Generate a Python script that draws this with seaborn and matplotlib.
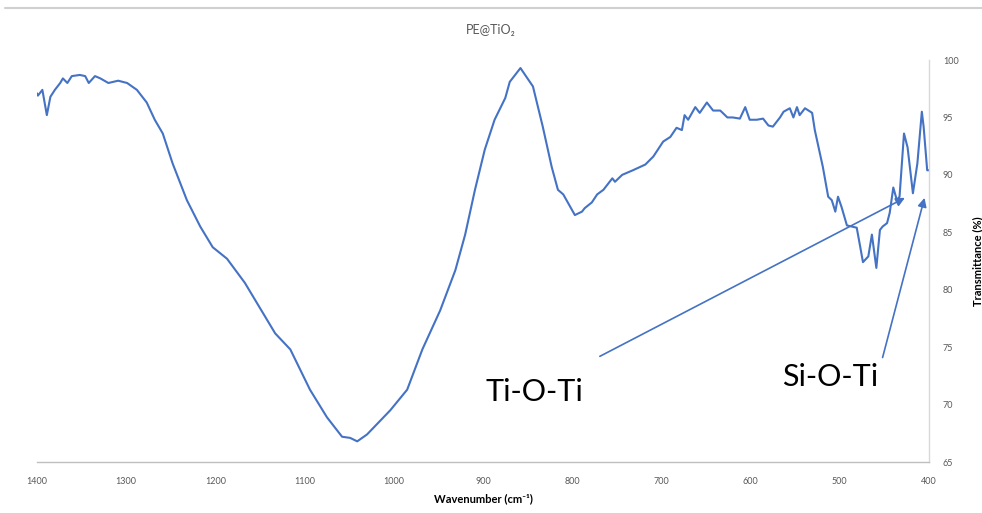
import numpy as np
import pandas as pd
import matplotlib
matplotlib.use("Agg")
import matplotlib.pyplot as plt
from matplotlib.lines import Line2D
import seaborn as sns

# ---- data ----
wavenumber = [1400, 1399, 1394, 1389, 1385, 1380, 1374, 1371, 1366, 1361, 1352, 1346, 1342,
              1335, 1329, 1320, 1309, 1299, 1288, 1277, 1268, 1259, 1248, 1232, 1217, 1203,
              1187, 1167, 1150, 1133, 1116, 1094, 1075, 1058, 1049, 1041, 1030, 1004, 985,
              968, 948, 931, 920, 909, 898, 887, 875, 870, 858, 844, 833, 823, 816, 810,
              797, 789, 786, 778, 772, 765, 755, 752, 744, 732, 718, 709, 698, 690, 683,
              677, 674, 670, 662, 657, 649, 642, 634, 626, 620, 612, 606, 601, 593, 586,
              580, 575, 567, 563, 556, 552, 548, 545, 539, 533, 531, 528, 519, 513, 509,
              505, 502, 498, 492, 481, 477, 474, 468, 464, 459, 455, 452, 447, 444, 440,
              436, 433, 428, 424, 418, 413, 408, 406, 402, 400]
transmittance = [97.1, 96.9, 97.4, 95.2, 96.8, 97.4, 98.0, 98.4, 98.0, 98.6, 98.7, 98.6, 98.0,
                 98.6, 98.4, 98.0, 98.2, 98.0, 97.4, 96.3, 94.8, 93.6, 91.0, 87.8, 85.5, 83.7,
                 82.7, 80.6, 78.4, 76.2, 74.8, 71.3, 68.9, 67.2, 67.1, 66.8, 67.4, 69.5, 71.3,
                 74.8, 78.2, 81.7, 84.8, 88.7, 92.2, 94.8, 96.7, 98.1, 99.3, 97.7, 94.2, 90.7,
                 88.7, 88.3, 86.5, 86.8, 87.1, 87.6, 88.3, 88.7, 89.7, 89.4, 90.0, 90.4, 90.9,
                 91.6, 92.9, 93.3, 94.1, 93.9, 95.2, 94.8, 95.9, 95.4, 96.3, 95.6, 95.6, 95.0,
                 95.0, 94.9, 95.9, 94.8, 94.8, 94.9, 94.3, 94.2, 95.0, 95.5, 95.8, 95.0, 95.9,
                 95.2, 95.8, 95.5, 95.4, 93.9, 90.7, 88.1, 87.8, 86.8, 88.1, 87.2, 85.6, 85.4,
                 83.7, 82.4, 82.9, 84.8, 81.9, 85.2, 85.5, 85.8, 86.7, 88.9, 87.8, 88.1, 93.6,
                 92.4, 88.4, 91.0, 95.5, 94.2, 90.4, 90.4]
x_ticks = [1400, 1300, 1200, 1100, 1000, 900, 800, 700, 600, 500, 400]
y_ticks = [65, 70, 75, 80, 85, 90, 95, 100]
title = "PE@TiO\u2082"
x_label = "Wavenumber (cm\u207b\u00b9)"
y_label = "Transmittance (%)"
annotations = ["Ti-O-Ti", "Si-O-Ti"]

df = pd.DataFrame({"wn": wavenumber, "T": transmittance})

sns.set_theme(style="white")
plt.rcParams["font.family"] = ["Lato", "DejaVu Sans"]

LINE = "#4472C4"
GREY = "#595959"

fig = plt.figure(figsize=(9.82, 5.13), dpi=100)
ax = fig.add_axes([0.0377, 0.0994, 0.9083, 0.7836])

sns.lineplot(data=df, x="wn", y="T", ax=ax, sort=False, estimator=None,
             color=LINE, linewidth=1.5)

ax.set_xlim(1400, 400)
ax.set_ylim(65, 100)
ax.set_xticks(x_ticks)
ax.set_xticklabels([str(t) for t in x_ticks])
ax.set_yticks(y_ticks)
ax.set_yticklabels([str(t) for t in y_ticks])
ax.yaxis.tick_right()
ax.yaxis.set_label_position("right")
ax.tick_params(axis="both", length=0, labelsize=6.5, labelcolor=GREY)
ax.tick_params(axis="x", pad=11)
ax.tick_params(axis="y", pad=10)

for s in ["top", "left"]:
    ax.spines[s].set_visible(False)
ax.spines["bottom"].set_color("#BFBFBF")
ax.spines["right"].set_color("#D9D9D9")
ax.spines["bottom"].set_linewidth(1.0)
ax.spines["right"].set_linewidth(1.0)

ax.set_xlabel(x_label, fontsize=8, fontweight="bold", color="black", labelpad=5)
ax.set_ylabel(y_label, fontsize=8, fontweight="bold", color="black", labelpad=10)

fig.text(0.5, 0.941, title, ha="center", va="center", fontsize=9, color=GREY)

# top border line of the chart frame
fig.add_artist(Line2D([0.005, 1.0], [0.984, 0.984], transform=fig.transFigure,
                      color="#D0D0D0", linewidth=1.5))

# annotations
arrow_kw = dict(arrowstyle="-|>", color=LINE, lw=1.2, mutation_scale=13,
                shrinkA=0, shrinkB=0)
ax.annotate("", xy=(427, 88.0), xytext=(769, 74.2), arrowprops=arrow_kw)
ax.annotate("", xy=(405, 88.0), xytext=(452, 74.1), arrowprops=arrow_kw)
ax.text(842, 71.1, annotations[0], ha="center", va="center", fontsize=22, color="black")
ax.text(511, 72.4, annotations[1], ha="center", va="center", fontsize=22, color="black")

fig.savefig("out.png", dpi=100)
